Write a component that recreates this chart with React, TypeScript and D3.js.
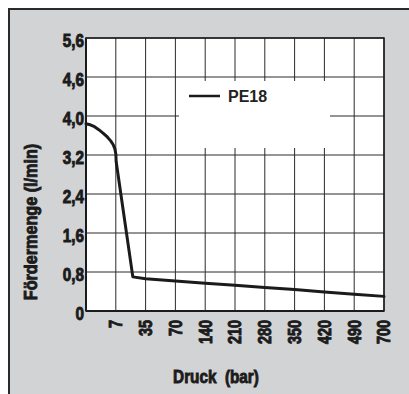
import React from "react";
import * as d3 from "d3";

// ---- data ----
const xTickValues = [0, 7, 35, 70, 140, 210, 280, 350, 420, 490, 700];
const xTickLabels = ["", "7", "35", "70", "140", "210", "280", "350", "420", "490", "700"];
const yTickValues = [0, 0.8, 1.6, 2.4, 3.2, 4.0, 4.6, 5.6];
const yTickLabels = ["0", "0,8", "1,6", "2,4", "3,2", "4,0", "4,6", "5,6"];

const pressure = [0, 1, 2, 3, 4, 5, 5.8, 6.4, 6.8, 7.1, 7.3, 23, 35, 70, 140, 210, 280, 350, 420, 490, 700];
const flow = [3.84, 3.82, 3.78, 3.72, 3.65, 3.57, 3.49, 3.41, 3.32, 3.21, 3.07, 0.7, 0.66, 0.615, 0.57, 0.53, 0.48, 0.44, 0.39, 0.345, 0.3];

const seriesName = "PE18";
const xTitle = "Druck  (bar)";
const yTitle = "Fördermenge (l/min)";

// ---- layout ----
const W = 409;
const H = 394;
const plot = { left: 86, right: 384, top: 38, bottom: 311 };
const ink = "#1b1b1b";
const bg = "#d2d3d5";
const condensed = "'Liberation Sans', Arial, sans-serif";

export default function App() {
  const xRange = xTickValues.map(
    (_, i) => plot.left + ((plot.right - plot.left) * i) / (xTickValues.length - 1)
  );
  const x = d3.scaleLinear().domain(xTickValues).range(xRange);
  const yRange = yTickValues.map(
    (_, i) => plot.bottom - ((plot.bottom - plot.top) * i) / (yTickValues.length - 1)
  );
  const y = d3.scaleLinear().domain(yTickValues).range(yRange);

  const line = d3
    .line<number>()
    .x((_, i) => x(pressure[i]))
    .y((d) => y(d))
    .curve(d3.curveLinear);
  const path = line(flow) || "";

  // legend box (cuts the grid)
  const box = { x0: 179, x1: 330, y0: 81, y1: 148 };

  const labelText = {
    fontFamily: condensed,
    fontWeight: "bold" as const,
    fontSize: 18,
    fill: ink,
    stroke: ink,
    strokeWidth: 0.9,
  };

  return (
    <svg
      width={W}
      height={H}
      style={{ position: "absolute", left: 0, top: 0 }}
      xmlns="http://www.w3.org/2000/svg"
    >
      <rect x={0} y={0} width={W} height={H} fill="#ffffff" />
      <rect x={10} y={10} width={W - 10} height={H - 10} fill={bg} />
      <line x1={8} x2={W} y1={9} y2={9} stroke="#2a2a2a" strokeWidth={2} />
      <line x1={9} x2={9} y1={8} y2={H} stroke="#2a2a2a" strokeWidth={2} />

      {/* plot area */}
      <rect
        x={plot.left}
        y={plot.top}
        width={plot.right - plot.left}
        height={plot.bottom - plot.top}
        fill="#ffffff"
      />
      {/* grid */}
      {xTickValues.slice(1).map((v) => (
        <line
          key={"gx" + v}
          x1={x(v)}
          x2={x(v)}
          y1={plot.top}
          y2={plot.bottom}
          stroke="#2b2b2b"
          strokeWidth={1}
        />
      ))}
      {yTickValues.slice(1).map((v) => (
        <line
          key={"gy" + v}
          x1={plot.left}
          x2={plot.right}
          y1={y(v)}
          y2={y(v)}
          stroke="#2b2b2b"
          strokeWidth={1}
        />
      ))}
      <rect
        x={box.x0}
        y={box.y0}
        width={box.x1 - box.x0}
        height={box.y1 - box.y0}
        fill="#ffffff"
      />
      {/* frame */}
      <rect
        x={plot.left}
        y={plot.top}
        width={plot.right - plot.left}
        height={plot.bottom - plot.top}
        fill="none"
        stroke={ink}
        strokeWidth={1.5}
      />
      <line x1={plot.left} x2={plot.left} y1={plot.top} y2={plot.bottom} stroke={ink} strokeWidth={2} />
      <line x1={plot.left} x2={plot.right} y1={plot.bottom} y2={plot.bottom} stroke={ink} strokeWidth={2} />

      {/* curve */}
      <path d={path} fill="none" stroke={ink} strokeWidth={3} strokeLinejoin="round" strokeLinecap="round" />

      {/* legend */}
      <line x1={189} x2={220} y1={96} y2={96} stroke={ink} strokeWidth={2.5} />
      <text
        x={228}
        y={102}
        fontFamily="'Liberation Sans', Arial, sans-serif"
        fontWeight="bold"
        fontSize={16}
        fill="#222"
      >
        {seriesName}
      </text>

      {/* y tick labels */}
      {yTickValues.map((v, i) => (
        <g key={"yl" + v} transform={`translate(84,${y(v) + 2.5}) scale(0.85,1)`}>
          <text textAnchor="end" dy="0.36em" {...labelText}>
            {yTickLabels[i]}
          </text>
        </g>
      ))}

      {/* x tick labels */}
      {xTickValues.map((v, i) =>
        xTickLabels[i] ? (
          <g key={"xl" + v} transform={`translate(${x(v)},320) rotate(-90) scale(0.8,1)`}>
            <text textAnchor="end" dy="0.36em" {...labelText}>
              {xTickLabels[i]}
            </text>
          </g>
        ) : null
      )}

      {/* axis titles */}
      <g transform={`translate(216,383) scale(0.85,1)`}>
        <text textAnchor="middle" {...labelText} style={{ whiteSpace: "pre" }}>
          {xTitle}
        </text>
      </g>
      <g transform={`translate(30.5,222) rotate(-90) scale(0.9,1)`}>
        <text textAnchor="middle" dy="0.36em" {...labelText}>
          {yTitle}
        </text>
      </g>
    </svg>
  );
}
